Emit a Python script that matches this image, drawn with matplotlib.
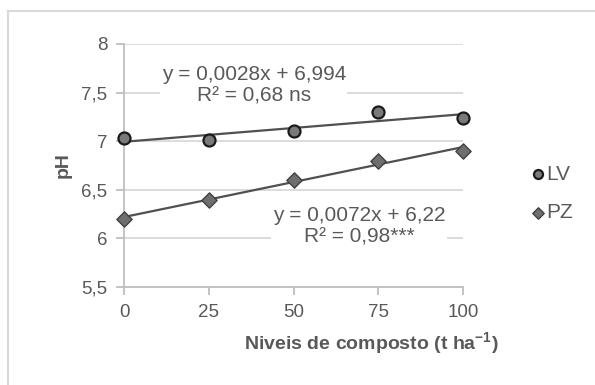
import numpy as np
import matplotlib
matplotlib.use("Agg")
import matplotlib.pyplot as plt
from matplotlib.patches import Rectangle

plt.rcParams['font.family'] = ['Liberation Sans', 'DejaVu Sans']

# data
niveis = [0, 25, 50, 75, 100]
ph_lv = [7.03, 7.01, 7.10, 7.30, 7.24]
ph_pz = [6.20, 6.40, 6.60, 6.80, 6.90]
y_ticks = [5.5, 6.0, 6.5, 7.0, 7.5, 8.0]
y_labels = ['5,5', '6', '6,5', '7', '7,5', '8']
eq_lv = 'y = 0,0028x + 6,994\nR² = 0,68 ns'
eq_pz = 'y = 0,0072x + 6,22\nR² = 0,98***'

txt = '#595959'
grid = '#d9d9d9'

fig = plt.figure(figsize=(5.95, 3.85), dpi=100)
fig.patches.append(Rectangle((8 / 595, -0.2), 1.5, 0.971 + 0.2, transform=fig.transFigure,
                             fill=False, edgecolor=grid, lw=1.5))
ax = fig.add_axes([124 / 595, 1 - 287 / 385, 339 / 595, 243 / 385])

for yv in y_ticks:
    ax.plot([0, 100], [yv, yv], color=grid, lw=1.3, zorder=1)

xx = np.array([0, 100])
for yy in (ph_lv, ph_pz):
    k, b = np.polyfit(niveis, yy, 1)
    ax.plot(xx, k * xx + b, color='#505050', lw=1.6, zorder=3)

ax.scatter(niveis, ph_lv, s=75, marker='o', color='#7a7a7a', edgecolor='#1a1a1a',
           linewidths=1.6, zorder=4, label='LV', clip_on=False)
ax.scatter(niveis, ph_pz, s=60, marker='D', color='#6e6e6e', edgecolor='#404040',
           linewidths=1.0, zorder=4, label='PZ', clip_on=False)

ax.text(38.3, 7.575, eq_lv, ha='center', va='center', fontsize=15, color=txt,
        linespacing=1.2, zorder=2, bbox=dict(facecolor='white', edgecolor='none', pad=1))
ax.text(69.3, 6.125, eq_pz, ha='center', va='center', fontsize=15, color=txt,
        linespacing=1.2, zorder=2, bbox=dict(facecolor='white', edgecolor='none', pad=1))

ax.set_xlim(0, 100)
ax.set_ylim(5.5, 8)
ax.set_xticks(niveis)
ax.set_yticks(y_ticks)
ax.set_yticklabels(y_labels)
ax.tick_params(colors='#bfbfbf', labelcolor=txt, labelsize=13.5, length=6, width=1.3)
ax.tick_params(axis='x', pad=6)
ax.tick_params(axis='y', pad=6)
for s in ('top', 'right'):
    ax.spines[s].set_visible(False)
for s in ('left', 'bottom'):
    ax.spines[s].set_color('#bfbfbf')
    ax.spines[s].set_linewidth(1.3)
for lab in ax.get_xticklabels() + ax.get_yticklabels():
    lab.set_color(txt)

ax.set_xlabel('Niveis de composto (t ha$^{\\mathregular{-1}}$)', fontsize=14, fontweight='bold',
              color=txt)
ax.xaxis.set_label_coords(0.73, -0.18)
ax.set_ylabel('pH', fontsize=14, fontweight='bold', color=txt, labelpad=7)

leg = ax.legend(loc='center left', bbox_to_anchor=(1.135, 0.385), frameon=False,
                fontsize=15, handletextpad=-0.1, labelspacing=0.95, markerscale=0.75,
                handlelength=1.0)
for t in leg.get_texts():
    t.set_color(txt)

fig.savefig('out.png', dpi=100)
